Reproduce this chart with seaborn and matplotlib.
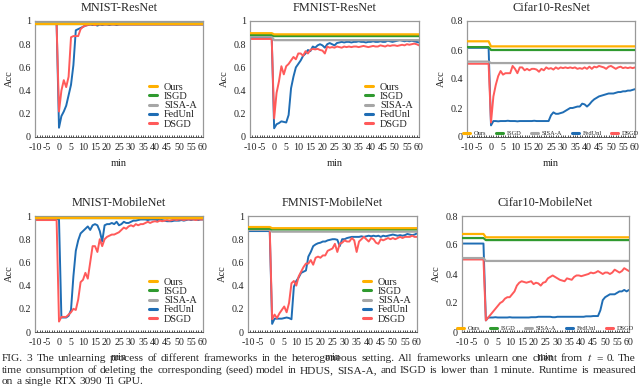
import matplotlib
matplotlib.use('Agg')
import matplotlib.pyplot as plt
from matplotlib.ticker import MultipleLocator, FuncFormatter
from matplotlib.lines import Line2D
import seaborn as sns

sns.set_style('ticks')
plt.rcParams['font.family'] = ['Liberation Serif', 'DejaVu Serif']
plt.rcParams['mathtext.fontset'] = 'stix'
plt.rcParams['axes.unicode_minus'] = False

methods = ['Ours', 'ISGD', 'SISA-A', 'FedUnl', 'DSGD']
colors = ['#ffb000', '#2f9a2f', '#a6a6a6', '#1f6db4', '#ff5a5a']

x_ticks = [-10, -5, 0, 5, 10, 15, 20, 25, 30, 35, 40, 45, 50, 55, 60]
t_flat = [-10, -1, 0, 60]
t_curve = [-10, -1] + list(range(0, 61))

# ---- MNIST-ResNet ----  flat methods: [before, after]
mnist_res_ours = [0.975, 0.975]
mnist_res_isgd = [0.975, 0.975]
mnist_res_sisa = [0.985, 0.985]
mnist_res_fed = [0.98, 0.98,
    0.08, 0.18, 0.22, 0.27, 0.36, 0.45, 0.62, 0.92, 0.93, 0.94, 0.95, 0.96, 0.965, 0.97, 0.965, 0.97,
    0.96, 0.97, 0.965, 0.97, 0.97, 0.965, 0.97, 0.97, 0.965, 0.97, 0.97, 0.97, 0.97, 0.97, 0.97, 0.97,
    0.97, 0.97, 0.97, 0.97, 0.97, 0.97, 0.97, 0.97, 0.97, 0.97, 0.97, 0.97, 0.97, 0.97, 0.97, 0.97,
    0.97, 0.97, 0.97, 0.97, 0.97, 0.97, 0.97, 0.97, 0.97, 0.97, 0.97, 0.97, 0.97]
mnist_res_dsgd = [0.975, 0.975,
    0.22, 0.40, 0.49, 0.43, 0.52, 0.86, 0.87, 0.87, 0.87, 0.93, 0.95, 0.96, 0.965, 0.97, 0.97, 0.965,
    0.97, 0.97, 0.97, 0.97, 0.97, 0.97, 0.97, 0.97, 0.97, 0.97, 0.97, 0.97, 0.97, 0.97, 0.97, 0.97,
    0.97, 0.97, 0.97, 0.97, 0.97, 0.97, 0.97, 0.97, 0.97, 0.97, 0.97, 0.97, 0.97, 0.97, 0.97, 0.97,
    0.97, 0.97, 0.97, 0.97, 0.97, 0.97, 0.97, 0.97, 0.97, 0.97, 0.97, 0.97, 0.97]

# ---- FMNIST-ResNet ----
fmnist_res_ours = [0.895, 0.885]
fmnist_res_isgd = [0.88, 0.87]
fmnist_res_sisa = [0.865, 0.835]
fmnist_res_fed = [0.855, 0.855,
    0.075, 0.11, 0.12, 0.135, 0.13, 0.125, 0.19, 0.42, 0.52, 0.60, 0.63, 0.66, 0.70, 0.72, 0.75, 0.74,
    0.78, 0.77, 0.79, 0.80, 0.79, 0.77, 0.80, 0.81, 0.80, 0.79, 0.81, 0.815, 0.82, 0.815, 0.82, 0.82,
    0.815, 0.82, 0.82, 0.825, 0.82, 0.82, 0.815, 0.82, 0.82, 0.825, 0.82, 0.82, 0.825, 0.82, 0.82, 0.83,
    0.825, 0.82, 0.825, 0.83, 0.835, 0.83, 0.825, 0.83, 0.825, 0.83, 0.825, 0.82, 0.815]
fmnist_res_dsgd = [0.845, 0.845,
    0.16, 0.38, 0.48, 0.61, 0.54, 0.61, 0.63, 0.66, 0.69, 0.67, 0.72, 0.72, 0.70, 0.74, 0.72, 0.75,
    0.76, 0.755, 0.76, 0.75, 0.745, 0.72, 0.78, 0.77, 0.775, 0.77, 0.78, 0.775, 0.77, 0.78, 0.775, 0.78,
    0.775, 0.78, 0.78, 0.775, 0.78, 0.785, 0.78, 0.775, 0.78, 0.785, 0.78, 0.78, 0.79, 0.785, 0.78, 0.79,
    0.785, 0.79, 0.79, 0.785, 0.79, 0.795, 0.79, 0.80, 0.795, 0.80, 0.805, 0.80, 0.79]

# ---- Cifar10-ResNet ----
cifar_res_ours = [0.66, 0.625]
cifar_res_isgd = [0.62, 0.60]
cifar_res_sisa = [0.52, 0.51]
cifar_res_fed = [0.615, 0.615,
    0.08, 0.11, 0.11, 0.108, 0.11, 0.11, 0.11, 0.112, 0.11, 0.11, 0.11, 0.108, 0.11, 0.11, 0.11, 0.11,
    0.11, 0.11, 0.112, 0.11, 0.11, 0.11, 0.11, 0.11, 0.11, 0.15, 0.17, 0.16, 0.16, 0.165, 0.17, 0.18,
    0.19, 0.20, 0.20, 0.205, 0.21, 0.21, 0.23, 0.225, 0.21, 0.225, 0.245, 0.26, 0.27, 0.28, 0.285, 0.29,
    0.295, 0.30, 0.30, 0.30, 0.305, 0.31, 0.31, 0.315, 0.315, 0.32, 0.32, 0.325, 0.33]
cifar_res_dsgd = [0.505, 0.505,
    0.10, 0.28, 0.36, 0.42, 0.455, 0.43, 0.44, 0.44, 0.44, 0.49, 0.47, 0.44, 0.48, 0.48, 0.46, 0.47,
    0.46, 0.47, 0.47, 0.465, 0.45, 0.47, 0.46, 0.48, 0.47, 0.475, 0.465, 0.48, 0.47, 0.48, 0.475, 0.48,
    0.475, 0.48, 0.475, 0.48, 0.47, 0.475, 0.47, 0.48, 0.47, 0.485, 0.47, 0.485, 0.48, 0.49, 0.485, 0.48,
    0.47, 0.485, 0.49, 0.48, 0.47, 0.48, 0.485, 0.475, 0.48, 0.475, 0.48, 0.475, 0.48]

# ---- MNIST-MobileNet ----
mnist_mob_ours = [0.98, 0.98]
mnist_mob_isgd = [0.98, 0.98]
mnist_mob_sisa = [0.985, 0.985]
mnist_mob_fed = [0.975, 0.975,
    0.97, 0.125, 0.125, 0.125, 0.14, 0.19, 0.48, 0.70, 0.79, 0.85, 0.87, 0.89, 0.91, 0.88, 0.92, 0.93,
    0.92, 0.87, 0.78, 0.92, 0.93, 0.93, 0.94, 0.93, 0.95, 0.92, 0.93, 0.95, 0.94, 0.94, 0.95, 0.96,
    0.96, 0.965, 0.97, 0.97, 0.97, 0.965, 0.97, 0.97, 0.97, 0.965, 0.97, 0.965, 0.96, 0.955, 0.955, 0.955,
    0.96, 0.96, 0.96, 0.965, 0.96, 0.965, 0.97, 0.965, 0.97, 0.97, 0.965, 0.97, 0.97]
mnist_mob_dsgd = [0.965, 0.965,
    0.09, 0.13, 0.13, 0.13, 0.15, 0.17, 0.20, 0.19, 0.28, 0.43, 0.45, 0.51, 0.46, 0.60, 0.74, 0.74,
    0.69, 0.80, 0.74, 0.80, 0.82, 0.83, 0.84, 0.84, 0.85, 0.86, 0.88, 0.90, 0.89, 0.91, 0.92, 0.91,
    0.93, 0.92, 0.93, 0.93, 0.94, 0.95, 0.94, 0.95, 0.955, 0.95, 0.96, 0.955, 0.96, 0.965, 0.96, 0.965,
    0.97, 0.965, 0.97, 0.97, 0.965, 0.97, 0.97, 0.97, 0.97, 0.965, 0.97, 0.97, 0.97]

# ---- FMNIST-MobileNet ----
fmnist_mob_ours = [0.905, 0.895]
fmnist_mob_isgd = [0.89, 0.885]
fmnist_mob_sisa = [0.88, 0.865]
fmnist_mob_fed = [0.87, 0.87,
    0.07, 0.115, 0.115, 0.115, 0.115, 0.12, 0.125, 0.12, 0.11, 0.39, 0.44, 0.47, 0.51, 0.52, 0.53, 0.65,
    0.69, 0.74, 0.755, 0.765, 0.77, 0.78, 0.78, 0.79, 0.795, 0.80, 0.80, 0.795, 0.74, 0.80, 0.80, 0.81,
    0.815, 0.82, 0.82, 0.82, 0.82, 0.825, 0.82, 0.825, 0.83, 0.825, 0.83, 0.825, 0.83, 0.82, 0.83, 0.825,
    0.83, 0.835, 0.84, 0.835, 0.83, 0.835, 0.83, 0.835, 0.845, 0.84, 0.835, 0.84, 0.85]
fmnist_mob_dsgd = [0.9, 0.9,
    0.11, 0.15, 0.12, 0.16, 0.19, 0.22, 0.17, 0.25, 0.42, 0.44, 0.40, 0.48, 0.52, 0.56, 0.59, 0.59,
    0.62, 0.58, 0.64, 0.65, 0.64, 0.66, 0.66, 0.70, 0.71, 0.72, 0.76, 0.69, 0.76, 0.77, 0.79, 0.78,
    0.78, 0.81, 0.79, 0.69, 0.78, 0.80, 0.82, 0.80, 0.78, 0.81, 0.80, 0.77, 0.76, 0.80, 0.79, 0.80,
    0.81, 0.80, 0.81, 0.80, 0.81, 0.82, 0.81, 0.82, 0.82, 0.82, 0.83, 0.82, 0.82]

# ---- Cifar10-MobileNet ----
cifar_mob_ours = [0.676, 0.653]
cifar_mob_isgd = [0.648, 0.634]
cifar_mob_sisa = [0.51, 0.49]
cifar_mob_fed = [0.61, 0.61,
    0.08, 0.10, 0.10, 0.10, 0.102, 0.10, 0.10, 0.10, 0.10, 0.10, 0.102, 0.10, 0.10, 0.10, 0.10, 0.10,
    0.10, 0.10, 0.10, 0.102, 0.102, 0.102, 0.105, 0.105, 0.105, 0.105, 0.105, 0.105, 0.102, 0.102, 0.105, 0.105,
    0.105, 0.105, 0.105, 0.105, 0.105, 0.105, 0.105, 0.105, 0.105, 0.105, 0.108, 0.108, 0.108, 0.11, 0.11, 0.11,
    0.15, 0.22, 0.24, 0.25, 0.26, 0.26, 0.26, 0.27, 0.28, 0.28, 0.29, 0.28, 0.29]
cifar_mob_dsgd = [0.50, 0.50,
    0.08, 0.10, 0.12, 0.14, 0.16, 0.18, 0.20, 0.21, 0.23, 0.24, 0.24, 0.26, 0.28, 0.32, 0.34, 0.35,
    0.345, 0.34, 0.345, 0.35, 0.33, 0.34, 0.335, 0.32, 0.34, 0.345, 0.37, 0.38, 0.39, 0.38, 0.37, 0.36,
    0.355, 0.35, 0.37, 0.365, 0.36, 0.38, 0.39, 0.39, 0.385, 0.39, 0.395, 0.40, 0.41, 0.405, 0.41, 0.42,
    0.41, 0.40, 0.41, 0.41, 0.40, 0.41, 0.43, 0.42, 0.41, 0.42, 0.44, 0.43, 0.42]

panels = [
    ('MNIST-ResNet', (35, 203, 21, 137), 1.0,
     [mnist_res_ours, mnist_res_isgd, mnist_res_sisa], mnist_res_fed, mnist_res_dsgd, 'right'),
    ('FMNIST-ResNet', (250, 419, 21, 137), 1.0,
     [fmnist_res_ours, fmnist_res_isgd, fmnist_res_sisa], fmnist_res_fed, fmnist_res_dsgd, 'right'),
    ('Cifar10-ResNet', (467, 635, 21, 137), 0.8,
     [cifar_res_ours, cifar_res_isgd, cifar_res_sisa], cifar_res_fed, cifar_res_dsgd, 'bottom'),
    ('MNIST-MobileNet', (35, 203, 216, 332), 1.0,
     [mnist_mob_ours, mnist_mob_isgd, mnist_mob_sisa], mnist_mob_fed, mnist_mob_dsgd, 'right'),
    ('FMNIST-MobileNet', (248, 417, 216, 332), 1.0,
     [fmnist_mob_ours, fmnist_mob_isgd, fmnist_mob_sisa], fmnist_mob_fed, fmnist_mob_dsgd, 'right'),
    ('Cifar10-MobileNet', (462, 629, 216, 332), 0.8,
     [cifar_mob_ours, cifar_mob_isgd, cifar_mob_sisa], cifar_mob_fed, cifar_mob_dsgd, 'bottom'),
]

W, H = 640, 390
fig = plt.figure(figsize=(6.4, 3.9), dpi=100)

for title, (l, r, t, b), ymax, flats, fed, dsgd, leg in panels:
    ax = fig.add_axes([l / W, 1 - b / H, (r - l) / W, (b - t) / H])
    # curves first, flat baselines on top
    sns.lineplot(x=t_curve, y=fed, ax=ax, color=colors[3], lw=1.4, estimator=None, sort=False, zorder=2)
    sns.lineplot(x=t_curve, y=dsgd, ax=ax, color=colors[4], lw=1.4, estimator=None, sort=False, zorder=2)
    for k, (pre, post) in enumerate(flats):
        sns.lineplot(x=t_flat, y=[pre, pre, post, post], ax=ax, color=colors[k], lw=1.6,
                     estimator=None, sort=False, zorder=3 - k * 0.1)

    ax.set_xlim(-10, 60)
    ax.set_ylim(0, ymax)
    ax.set_xticks(x_ticks)
    ax.xaxis.set_minor_locator(MultipleLocator(1))
    ax.set_yticks([v / 10 for v in range(0, int(ymax * 10) + 1, 2)])
    ax.yaxis.set_major_formatter(FuncFormatter(lambda v, p: '%g' % round(v, 2)))
    ax.tick_params(axis='both', which='major', labelsize=7.2, length=0, colors='#222')
    ax.tick_params(axis='y', which='major', pad=3)
    ax.tick_params(axis='x', which='major', pad=4)
    ax.tick_params(axis='x', which='minor', direction='in', length=1.5, width=0.6, color='#333')
    ax.tick_params(axis='x', which='major', direction='in', length=1.5, width=0.6, color='#333')
    for s in ['top', 'right', 'left']:
        ax.spines[s].set_color('#999999')
        ax.spines[s].set_linewidth(0.9)
    ax.spines['bottom'].set_color('#444444')
    ax.spines['bottom'].set_linewidth(0.6)
    ax.set_title(title, fontsize=8.8, pad=7)
    ax.set_xlabel('min', fontsize=7.5, labelpad=5)
    ax.set_ylabel('Acc', fontsize=7.5, labelpad=3)

    handles = [Line2D([], [], color=c, lw=2.2) for c in colors]
    if leg == 'right':
        ax.legend(handles, methods, loc='lower right', bbox_to_anchor=(1.0, 0.02), frameon=False,
                  fontsize=7.4, handlelength=0.75, handletextpad=0.7, labelspacing=0.0, borderaxespad=0.2)
    else:
        ax.legend(handles, methods, loc='lower center', ncol=5, frameon=False, fontsize=4.6,
                  handlelength=1.1, handletextpad=0.6, columnspacing=1.5, borderaxespad=0.1,
                  bbox_to_anchor=(0.5, -0.02))

# caption, justified line by line
caption_lines = [
    (['FIG.', '3', 'The', 'unlearning', 'process', 'of', 'different', 'frameworks', 'in', 'the',
      'heterogeneous', 'setting.', 'All', 'frameworks', 'unlearn', 'one', 'client', 'from',
      '$t$', '=', '0.', 'The'], 361, True),
    (['time', 'consumption', 'of', 'deleting', 'the', 'corresponding', '(seed)', 'model', 'in',
      'HDUS,', 'SISA-A,', 'and', 'ISGD', 'is', 'lower', 'than', '1', 'minute.', 'Runtime', 'is',
      'measured'], 373, True),
    (['on', 'a', 'single', 'RTX', '3090', 'Ti', 'GPU.'], 384, False),
]
renderer = fig.canvas.get_renderer()
x0, x1 = 2, 636
for words, y, justify in caption_lines:
    texts = [fig.text(0, 1 - y / H, w, fontsize=8.2, va='baseline', ha='left') for w in words]
    widths = [tx.get_window_extent(renderer).width for tx in texts]
    if justify:
        gap = (x1 - x0 - sum(widths)) / (len(words) - 1)
    else:
        gap = 3.0
    x = x0
    for tx, w in zip(texts, widths):
        tx.set_x(x / W)
        x += w + gap

fig.savefig('out.png', dpi=100)
